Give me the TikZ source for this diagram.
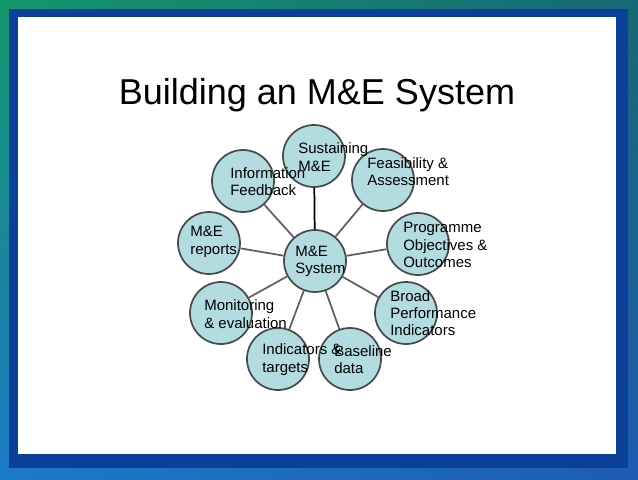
\documentclass[tikz,border=0pt]{standalone}
\usepackage{fontspec}
\setmainfont{Liberation Sans}
\usetikzlibrary{shadings}
\definecolor{bubble}{RGB}{178,220,224}
\definecolor{rimgray}{RGB}{70,74,76}
\definecolor{spoke}{RGB}{95,95,95}
\definecolor{frameband}{RGB}{10,64,154}
\definecolor{bgul}{RGB}{20,150,108}
\definecolor{bgur}{RGB}{22,104,118}
\definecolor{bgll}{RGB}{28,122,200}
\definecolor{bglr}{RGB}{30,92,176}
\tikzset{
  bub/.style={circle, draw=rimgray, line width=1.3pt, fill=bubble, minimum size=46.5pt, inner sep=0pt},
  lbl/.style={anchor=west, align=left, inner sep=0pt, font=\fontsize{11.25}{13pt}\selectfont},
  spk/.style={draw=spoke, line width=1.3pt}
}
\begin{document}
\begin{tikzpicture}[x=0.75pt, y=-0.75pt]
  \useasboundingbox (0,0) rectangle (638,479);
  % === frame ===
  \shade[upper left=bgul, upper right=bgur, lower left=bgll, lower right=bglr]
    (0,0) rectangle (638,479);
  \fill[frameband] (9,9) rectangle (628,468);
  \fill[white] (18,17) rectangle (616,454);

  \node[anchor=base, font=\fontsize{27}{32}\selectfont] (title) at (317,104) {Building an M\&E System};

  % === circles ===
  \node[bub] (sys)   at (315,261) {};
  \node[bub] (sust)  at (314,156) {};
  \node[bub] (info)  at (243,181) {};
  \node[bub] (feas)  at (383,180) {};
  \node[bub] (rep)   at (209,243) {};
  \node[bub] (prog)  at (418,244) {};
  \node[bub] (mon)   at (221,313) {};
  \node[bub] (broad) at (406,313) {};
  \node[bub] (ind)   at (278,359) {};
  \node[bub] (base)  at (350,359) {};

  % === spokes ===
  \draw[line width=1.3pt] (sys) -- (sust);
  \foreach \n in {info, feas, rep, prog, mon, broad, ind, base}
    \draw[spk] (sys) -- (\n);

  % === labels ===
  \node[lbl] (sysT)   at (295,261.5) {M\&E\\System};
  \node[lbl] (sustT)  at (298,157)   {Sustaining\\M\&E};
  \node[lbl] (infoT)  at (230,181.5) {Information\\Feedback};
  \node[lbl] (feasT)  at (367,171.5) {Feasibility \&\\Assessment};
  \node[lbl] (repT)   at (190,242)   {M\&E\\reports};
  \node[lbl] (progT)  at (403,245)   {Programme\\Objectives \&\\Outcomes};
  \node[lbl] (monT)   at (204,314)   {Monitoring\\\& evaluation};
  \node[lbl] (broadT) at (390,313)   {Broad\\Performance\\Indicators};
  \node[lbl] (indT)   at (262,359.5) {Indicators \&\\targets};
  \node[lbl] (baseT)  at (334,359.5) {Baseline\\data};
\end{tikzpicture}
\end{document}
